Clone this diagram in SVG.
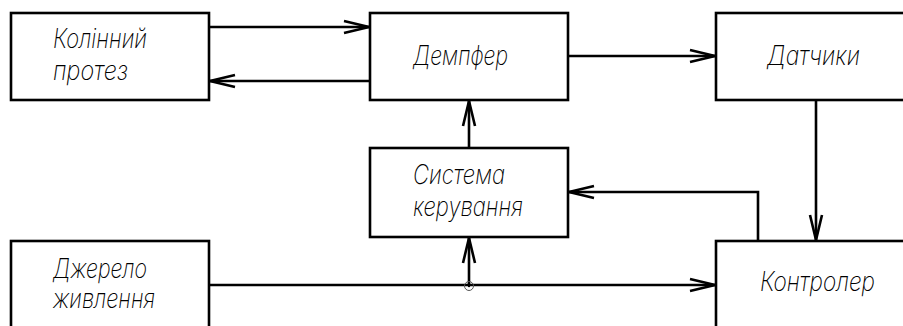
<svg xmlns="http://www.w3.org/2000/svg" width="903" height="326" viewBox="0 0 903 326">
  <style>
    .box { fill: #fff; stroke: #000; stroke-width: 2.6; }
    .lbl { font-family: "Inter", "DejaVu Sans", sans-serif; font-style: italic; font-weight: 200; font-size: 27px; fill: #000; }
    .wire { fill: none; stroke: #000; stroke-width: 2.6; }
  </style>
  <defs>
    <marker id="arrow" viewBox="-28 -8 30 16" markerWidth="30" markerHeight="16" refX="0" refY="0" orient="auto" markerUnits="userSpaceOnUse">
      <path d="M-25,-6 L0,0 L-25,6" fill="none" stroke="#000" stroke-width="2.6"/>
    </marker>
  </defs>
  <rect width="903" height="326" fill="#fff"/>

  <g id="connectors">
    <line class="wire" x1="209" y1="27" x2="369" y2="27" marker-end="url(#arrow)"/>
    <line class="wire" x1="370" y1="81" x2="210" y2="81" marker-end="url(#arrow)"/>
    <line class="wire" x1="568" y1="56" x2="715" y2="56" marker-end="url(#arrow)"/>
    <line class="wire" x1="816" y1="100" x2="816" y2="240" marker-end="url(#arrow)"/>
    <polyline class="wire" points="758,241 758,192 569,192" marker-end="url(#arrow)"/>
    <line class="wire" x1="469" y1="148" x2="469" y2="101" marker-end="url(#arrow)"/>
    <line class="wire" x1="209" y1="285" x2="715" y2="285" marker-end="url(#arrow)"/>
    <line class="wire" x1="469" y1="285" x2="469" y2="238" marker-end="url(#arrow)"/>
    <circle cx="469" cy="286" r="4.5" fill="none" stroke="#555" stroke-width="1"/>
    <circle cx="469" cy="286" r="1.2" fill="#000"/>
  </g>

  <g id="knee">
    <rect class="box" x="11" y="13" width="198" height="87"/>
    <text class="lbl" x="53" y="48" textLength="94" lengthAdjust="spacingAndGlyphs">Колінний</text>
    <text class="lbl" x="53" y="80" textLength="75" lengthAdjust="spacingAndGlyphs">протез</text>
  </g>

  <g id="damper">
    <rect class="box" x="370" y="13" width="198" height="87"/>
    <text class="lbl" x="413" y="65" textLength="95" lengthAdjust="spacingAndGlyphs">Демпфер</text>
  </g>

  <g id="sensors">
    <rect class="box" x="716" y="13" width="200" height="87"/>
    <text class="lbl" x="767" y="65" textLength="93" lengthAdjust="spacingAndGlyphs">Датчики</text>
  </g>

  <g id="control">
    <rect class="box" x="370" y="148" width="198" height="89"/>
    <text class="lbl" x="413" y="184" textLength="92" lengthAdjust="spacingAndGlyphs">Система</text>
    <text class="lbl" x="413" y="216" textLength="110" lengthAdjust="spacingAndGlyphs">керування</text>
  </g>

  <g id="power">
    <rect class="box" x="11" y="241" width="198" height="100"/>
    <text class="lbl" x="53" y="278" textLength="94" lengthAdjust="spacingAndGlyphs">Джерело</text>
    <text class="lbl" x="53" y="308" textLength="102" lengthAdjust="spacingAndGlyphs">живлення</text>
  </g>

  <g id="controller">
    <rect class="box" x="716" y="241" width="200" height="100"/>
    <text class="lbl" x="760" y="291" textLength="115" lengthAdjust="spacingAndGlyphs">Контролер</text>
  </g>
</svg>
